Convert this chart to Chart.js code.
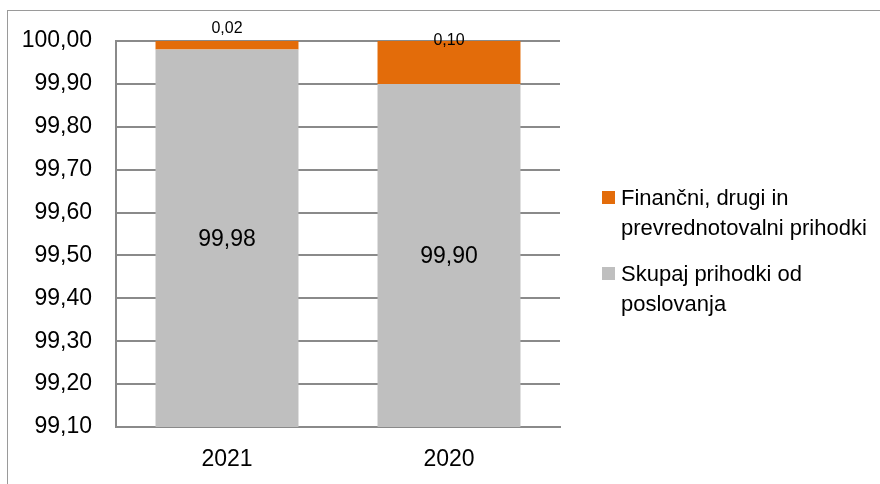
<!DOCTYPE html>
<html>
<head>
<meta charset="utf-8">
<script src="https://cdn.jsdelivr.net/npm/chart.js"></script>
<style>
  body { margin: 0; background: #fff; }
  #wrap { position: relative; width: 880px; height: 484px; overflow: hidden; }
  #frame { position: absolute; left: 7px; top: 10px; width: 900px; height: 500px;
           border-top: 1px solid #9a9a9a; border-left: 1px solid #9a9a9a; }
  canvas { position: absolute; left: 0; top: 0; }
</style>
</head>
<body>
<div id="wrap">
  <div id="frame"></div>
  <canvas id="chart" width="880" height="484"></canvas>
</div>
<script>
// data
const years = ['2021', '2020']
const poslovanje = [99.98, 99.90]
const financni = [0.02, 0.10]
const yTicks = [99.1, 99.2, 99.3, 99.4, 99.5, 99.6, 99.7, 99.8, 99.9, 100.0]
const seriesNames = [
    'Skupaj prihodki od poslovanja',
    'Finančni, drugi in prevrednotovalni prihodki'
]
const legendLines = [
    ['Skupaj prihodki od', 'poslovanja'],
    ['Finančni, drugi in', 'prevrednotovalni prihodki']
]

const font = '"Liberation Sans", Arial, sans-serif'
const fmt = v => v.toFixed(2).replace('.', ',')

const valueLabels = {
    id: 'valueLabels',
    afterDatasetsDraw(chart) {
        const ctx = chart.ctx
        const area = chart.chartArea
        ctx.save()
        ctx.fillStyle = '#000'
        ctx.textAlign = 'center'
        ctx.textBaseline = 'middle'
        // gray series: centred in the visible part of the bar
        ctx.font = '23px ' + font
        chart.getDatasetMeta(0).data.forEach((bar, i) => {
            const top = Math.max(bar.y, area.top)
            const bottom = Math.min(bar.base, area.bottom)
            ctx.fillText(fmt(poslovanje[i]), bar.x, (top + bottom) / 2 + 1)
        })
        // orange series: near the top
        const offsets = [-12, 0]
        ctx.font = '16px ' + font
        chart.getDatasetMeta(1).data.forEach((bar, i) => {
            ctx.fillText(fmt(financni[i]), bar.x, bar.y + offsets[i])
        })
        ctx.restore()
    }
}

const sideLegend = {
    id: 'sideLegend',
    afterDraw(chart) {
        const ctx = chart.ctx
        const colors = chart.data.datasets.map(d => d.backgroundColor)
        const items = [
            { ds: 1, top: 191 },
            { ds: 0, top: 267 }
        ]
        ctx.save()
        ctx.font = '22px ' + font
        ctx.textAlign = 'left'
        ctx.textBaseline = 'alphabetic'
        items.forEach(it => {
            ctx.fillStyle = colors[it.ds]
            ctx.fillRect(602, it.top, 13, 13)
            ctx.fillStyle = '#000'
            legendLines[it.ds].forEach((line, j) => {
                ctx.fillText(line, 621, it.top + 14 + j * 30)
            })
        })
        ctx.restore()
    }
}

new Chart(document.getElementById('chart'), {
    type: 'bar',
    data: {
        labels: years,
        datasets: [{
            label: seriesNames[0],
            data: poslovanje,
            backgroundColor: '#bfbfbf'
        }, {
            label: seriesNames[1],
            data: financni,
            backgroundColor: '#e36c0a'
        }]
    },
    options: {
        responsive: false,
        animation: false,
        layout: { padding: { left: 0, right: 320, top: 41, bottom: 0 } },
        datasets: {
            bar: { barPercentage: 0.644, categoryPercentage: 1.0 }
        },
        plugins: {
            legend: { display: false },
            tooltip: { enabled: false }
        },
        scales: {
            x: {
                stacked: true,
                grid: { display: false },
                border: { display: true, color: '#8a8a8a', width: 2 },
                ticks: { color: '#000', padding: 11, font: { family: font, size: 23 } },
                afterFit(scale) { scale.height = 57 }
            },
            y: {
                stacked: true,
                min: 99.1,
                max: 100,
                afterBuildTicks(scale) { scale.ticks = yTicks.map(v => ({ value: v })) },
                grid: { color: '#8a8a8a', lineWidth: 2, drawTicks: false },
                border: { display: true, color: '#8a8a8a', width: 2 },
                ticks: {
                    color: '#000',
                    padding: 24,
                    font: { family: font, size: 23 },
                    callback: v => fmt(v)
                },
                afterFit(scale) { scale.width = 116 }
            }
        }
    },
    plugins: [valueLabels, sideLegend]
})
</script>
</body>
</html>
